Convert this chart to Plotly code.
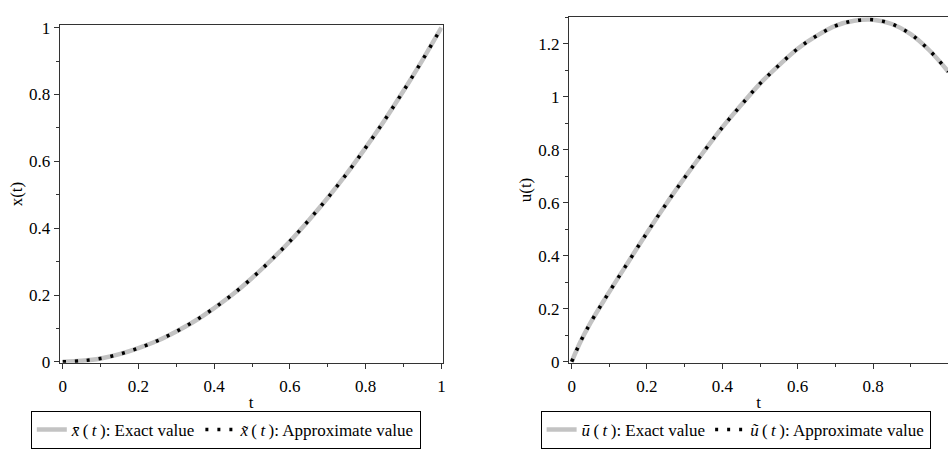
import plotly.graph_objects as go

# ---- data ----
t_x = [0, 0.05, 0.10, 0.15, 0.20, 0.25, 0.30, 0.35, 0.40, 0.45, 0.50,
       0.55, 0.60, 0.65, 0.70, 0.75, 0.80, 0.85, 0.90, 0.95, 1.00]
x_exact = [0, 0.003, 0.010, 0.023, 0.041, 0.063, 0.091, 0.123, 0.161, 0.203, 0.251,
           0.304, 0.361, 0.424, 0.491, 0.563, 0.641, 0.723, 0.811, 0.903, 1.0]
x_approx = list(x_exact)

t_u = [0, 0.025, 0.05, 0.10, 0.15, 0.20, 0.25, 0.30, 0.35, 0.40, 0.45, 0.50,
       0.55, 0.60, 0.65, 0.70, 0.75, 0.80, 0.85, 0.90, 0.95, 1.00]
u_exact = [0, 0.080, 0.147, 0.264, 0.376, 0.487, 0.594, 0.695, 0.792, 0.885, 0.969, 1.050,
           1.119, 1.182, 1.230, 1.268, 1.287, 1.291, 1.275, 1.237, 1.175, 1.095]
u_approx = list(u_exact)

x_ticks = [0, 0.2, 0.4, 0.6, 0.8, 1]
y1_ticks = [0, 0.2, 0.4, 0.6, 0.8, 1]
y2_ticks = [0, 0.2, 0.4, 0.6, 0.8, 1, 1.2]

FONT = "Liberation Serif, Times New Roman, serif"
FS = 17
LFS = 17
GRAY = "#c3c3c3"
TS = "\u2009"  # thin space

fig = go.Figure()

fig.add_trace(go.Scatter(x=t_x, y=x_exact, mode="lines", line=dict(color=GRAY, width=4.5, shape="spline"),
                         name=f"<i>x̄</i>{TS}({TS}<i>t</i>{TS}): Exact value", legend="legend",
                         xaxis="x", yaxis="y"))
fig.add_trace(go.Scatter(x=t_x, y=x_approx, mode="lines",
                         line=dict(color="black", width=3.5, dash="3px,9px", shape="spline"),
                         name=f"<i>x̃</i>{TS}({TS}<i>t</i>{TS}): Approximate value", legend="legend",
                         xaxis="x", yaxis="y"))
fig.add_trace(go.Scatter(x=t_u, y=u_exact, mode="lines", line=dict(color=GRAY, width=4.5, shape="spline"),
                         name=f"<i>ū</i>{TS}({TS}<i>t</i>{TS}): Exact value", legend="legend2",
                         xaxis="x2", yaxis="y2"))
fig.add_trace(go.Scatter(x=t_u, y=u_approx, mode="lines",
                         line=dict(color="black", width=3.5, dash="3px,9px", shape="spline"),
                         name=f"<i>ũ</i>{TS}({TS}<i>t</i>{TS}): Approximate value", legend="legend2",
                         xaxis="x2", yaxis="y2"))

W, H = 951, 449

def ax_common():
    return dict(showline=True, linecolor="#333", linewidth=1, ticks="outside", ticklen=5,
                tickcolor="#333", tickwidth=1, showgrid=False, zeroline=False,
                tickfont=dict(family=FONT, size=FS, color="black"),
                minor=dict(dtick=0.1, ticks="outside", ticklen=3, tickcolor="#333"))

fig.update_layout(
    width=W, height=H, margin=dict(l=0, r=0, t=0, b=0),
    paper_bgcolor="white", plot_bgcolor="white",
    font=dict(family=FONT, size=FS, color="black"),
    xaxis=dict(domain=[58 / W, 443 / W], range=[-0.008, 1.0034], anchor="y",
               tickvals=x_ticks, mirror=True, ticklabelstandoff=3,
               title=dict(text="t", standoff=0, font=dict(family=FONT, size=FS)), **ax_common()),
    yaxis=dict(domain=[(H - 369) / H, (H - 19) / H], range=[-0.003, 1.007], anchor="x",
               tickvals=y1_ticks, mirror=True, ticklabelstandoff=0,
               title=dict(text="x(t)", standoff=2, font=dict(family=FONT, size=FS)), **ax_common()),
    xaxis2=dict(domain=[570 / W, 1.0], range=[-0.007, 0.999], anchor="y2",
                tickvals=x_ticks, mirror=True, ticklabelstandoff=3,
                title=dict(text="t", standoff=0, font=dict(family=FONT, size=FS)), **ax_common()),
    yaxis2=dict(domain=[(H - 369) / H, (H - 10.5) / H], range=[-0.004, 1.301], anchor="x2",
                tickvals=y2_ticks, mirror=False, ticklabelstandoff=0,
                title=dict(text="u(t)", standoff=2, font=dict(family=FONT, size=FS)), **ax_common()),
    legend=dict(orientation="h", x=225 / W, xanchor="center", y=(H - 419) / H, yanchor="top",
                bordercolor="black", borderwidth=1, bgcolor="white",
                font=dict(family=FONT, size=LFS), itemwidth=30, tracegroupgap=0),
    legend2=dict(orientation="h", x=737.5 / W, xanchor="center", y=(H - 419) / H, yanchor="top",
                 bordercolor="black", borderwidth=1, bgcolor="white",
                 font=dict(family=FONT, size=LFS), itemwidth=30, tracegroupgap=0),
)

fig.write_html("out.html")
